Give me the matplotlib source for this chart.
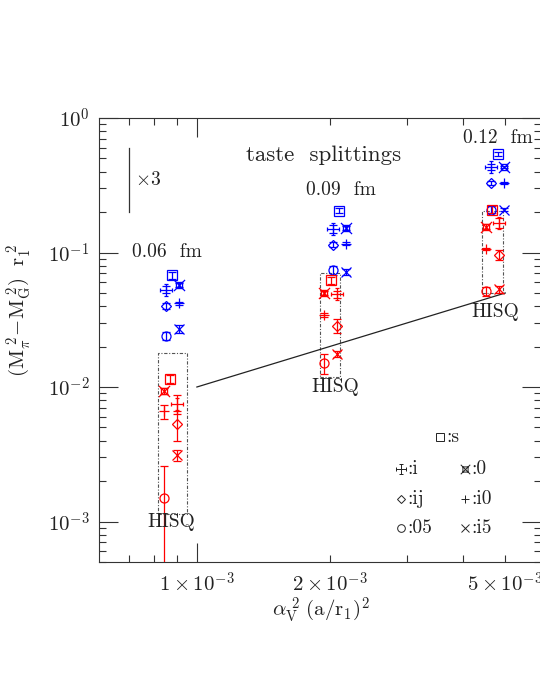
import numpy as np
import matplotlib
matplotlib.use('Agg')
import matplotlib.pyplot as plt
from matplotlib.path import Path
from matplotlib.ticker import FixedLocator, FixedFormatter

plt.rcParams['font.family'] = ['cmr10', 'DejaVu Serif']
plt.rcParams['mathtext.fontset'] = 'cm'
plt.rcParams['axes.formatter.use_mathtext'] = True

# ---- data ----
tastes = ['s', 'i', '0', 'ij', 'i0', '05', 'i5']
spacings = ['0.06  fm', '0.09  fm', '0.12  fm']

# x = alpha_V^2 (a/r1)^2 for each ensemble, blue/red columns
x_blue = [8.80e-4, 2.10e-3, 4.81e-3]
x_red = [8.70e-4, 2.01e-3, 4.67e-3]

# taste splittings, order as in `tastes`
blue_006 = [0.068, 0.053, 0.057, 0.040, 0.042, 0.024, 0.027]
blue_006_err = [0.004, 0.003, 0.002, 0.002, 0.001, 0.0015, 0.002]
blue_009 = [0.205, 0.149, 0.152, 0.114, 0.116, 0.074, 0.072]
blue_009_err = [0.008, 0.010, 0.006, 0.005, 0.003, 0.006, 0.004]
blue_012 = [0.540, 0.432, 0.432, 0.328, 0.328, 0.208, 0.208]
blue_012_err = [0.020, 0.020, 0.010, 0.010, 0.005, 0.012, 0.005]

red_006 = [0.0115, 0.0075, 0.0094, 0.0053, 0.0066, 0.0015, 0.0031]
red_006_err = [0.0008, 0.0012, 0.0005, 0.0013, 0.0008, 0.0011, 0.0003]
red_009 = [0.062, 0.049, 0.050, 0.0286, 0.0344, 0.0150, 0.0176]
red_009_err = [0.004, 0.003, 0.002, 0.0033, 0.001, 0.0026, 0.0009]
red_012 = [0.208, 0.166, 0.156, 0.096, 0.106, 0.0513, 0.0534]
red_012_err = [0.012, 0.015, 0.006, 0.008, 0.002, 0.004, 0.003]

# HISQ boxes
box_x_lo = [8.16e-4, 1.90e-3, 4.43e-3]
box_x_hi = [9.49e-4, 2.11e-3, 4.95e-3]
box_y_lo = [0.00114, 0.0119, 0.050]
box_y_hi = [0.0179, 0.0706, 0.202]
hisq_x = [8.73e-4, 2.06e-3, 4.74e-3]
hisq_y = [0.00116, 0.0117, 0.0422]

# spacing labels
label_x = [8.55e-4, 2.12e-3, 4.80e-3]
label_y = [0.101, 0.292, 0.713]

# straight line
line_x = [1e-3, 5e-3]
line_y = [0.01, 0.05]

# x3 scale bar
bar_x = 7.0e-4
bar_y = [0.2, 0.6]

# ---- markers ----
def make_i_marker():
    c = 0.35
    verts = [(0, -1), (0, 1), (-1, 0), (1, 0),
             (-c, 1), (c, 1), (-c, -1), (c, -1),
             (-1, -c), (-1, c), (1, -c), (1, c)]
    codes = [Path.MOVETO, Path.LINETO] * 6
    return Path(verts, codes)

def make_0_marker():
    s = 0.55
    verts = [(-s, -s), (s, -s), (s, s), (-s, s), (-s, -s),
             (-1, -1), (1, 1), (-1, 1), (1, -1)]
    codes = [Path.MOVETO, Path.LINETO, Path.LINETO, Path.LINETO, Path.LINETO,
             Path.MOVETO, Path.LINETO, Path.MOVETO, Path.LINETO]
    return Path(verts, codes)

marker_of = {'s': 's', 'i': make_i_marker(), '0': make_0_marker(),
             'ij': 'D', 'i0': '+', '05': 'o', 'i5': 'x'}
size_of = {'s': 6.5, 'i': 8.0, '0': 8.0, 'ij': 5.0, 'i0': 7.5, '05': 6.5, 'i5': 6.5}
side_blue = {'s': 0, 'i': -1, '0': 1, 'ij': -1, 'i0': 1, '05': -1, 'i5': 1}
side_red = {'s': 0, 'i': 1, '0': -1, 'ij': 1, 'i0': -1, '05': -1, 'i5': 1}
OFF = 1.0344

fig = plt.figure(figsize=(5.40, 6.99), dpi=100)
W, H = 540, 699
L, R, T, B = 99, 541, 118, 562
ax = fig.add_axes([L / W, 1 - B / H, (R - L) / W, (B - T) / H])
ax.set_xscale('log')
ax.set_yscale('log')
ax.set_xlim(6e-4, 6e-3 * 1.004)
ax.set_ylim(5e-4, 1.0)

fg = '#333333'

def draw_set(xc, vals, errs, color, side):
    for t, v, e in zip(tastes, vals, errs):
        x = xc * OFF ** side[t]
        ax.errorbar([x], [v], yerr=[e], fmt='none', ecolor=color,
                    elinewidth=0.9, capsize=3, capthick=0.9, zorder=3)
        ax.plot([x], [v], linestyle='none', marker=marker_of[t],
                markersize=size_of[t], mfc='none', mec=color, mew=0.9, zorder=4)

draw_set(x_blue[0], blue_006, blue_006_err, 'blue', side_blue)
draw_set(x_blue[1], blue_009, blue_009_err, 'blue', side_blue)
draw_set(x_blue[2], blue_012, blue_012_err, 'blue', side_blue)
draw_set(x_red[0], red_006, red_006_err, 'red', side_red)
draw_set(x_red[1], red_009, red_009_err, 'red', side_red)
draw_set(x_red[2], red_012, red_012_err, 'red', side_red)

for x0, x1, y0, y1 in zip(box_x_lo, box_x_hi, box_y_lo, box_y_hi):
    ax.plot([x0, x1, x1, x0, x0], [y0, y0, y1, y1, y0], color='#555555',
            lw=0.8, dashes=(3, 1.5, 1, 1.5), zorder=2)

for x, y in zip(hisq_x, hisq_y):
    ax.text(x, y, 'HISQ', ha='center', va='top', fontsize=14, color='#222222')

for x, y, s in zip(label_x, label_y, spacings):
    ax.text(x, y, s, ha='center', va='center', fontsize=14, color='#222222')

ax.plot(line_x, line_y, color='#222222', lw=0.9, zorder=2)

ax.plot([bar_x, bar_x], bar_y, color='#333333', lw=0.9)
ax.text(bar_x * 1.035, np.sqrt(bar_y[0] * bar_y[1]), r'$\times3$', ha='left',
        va='center', fontsize=14, color='#222222')

ax.text(0.507, 0.917, 'taste  splittings', transform=ax.transAxes, ha='center',
        va='center', fontsize=16.5, color='#222222')

# legend of taste symbols
def px(xp, yp):
    return (xp - L) / (R - L), (B - yp) / (B - T)

leg_entries = [('s', 440, 437), ('i', 401, 469), ('0', 465, 469),
               ('ij', 401, 499), ('i0', 465, 499), ('05', 401, 528), ('i5', 465, 528)]
for t, xp, yp in leg_entries:
    fx, fy = px(xp, yp)
    ax.plot([fx], [fy], transform=ax.transAxes, linestyle='none', marker=marker_of[t],
            markersize=size_of[t] * 0.85, mfc='none', mec='#222222', mew=0.7)
    fx2, _ = px(xp + 6, yp)
    ax.text(fx2, fy, ':' + t, transform=ax.transAxes, ha='left', va='center',
            fontsize=14, color='#222222')

# ticks
ax.xaxis.set_major_locator(FixedLocator([1e-3]))
ax.xaxis.set_major_formatter(FixedFormatter([r'$1\times10^{-3}$']))
x_minor = [7e-4, 8e-4, 9e-4, 2e-3, 3e-3, 4e-3, 5e-3]
x_minor_lab = ['', '', '', r'$2\times10^{-3}$', '', '', r'$5\times10^{-3}$']
ax.xaxis.set_minor_locator(FixedLocator(x_minor))
ax.xaxis.set_minor_formatter(FixedFormatter(x_minor_lab))

y_major = [1e-3, 1e-2, 1e-1, 1.0]
y_major_lab = [r'$10^{-3}$', r'$10^{-2}$', r'$10^{-1}$', r'$10^{0}$']
ax.yaxis.set_major_locator(FixedLocator(y_major))
ax.yaxis.set_major_formatter(FixedFormatter(y_major_lab))
y_minor = [m * d for d in [1e-4, 1e-3, 1e-2, 1e-1] for m in range(2, 10)]
ax.yaxis.set_minor_locator(FixedLocator(y_minor))
ax.yaxis.set_minor_formatter(FixedFormatter([''] * len(y_minor)))

ax.tick_params(which='both', direction='in', top=True, right=True, color=fg,
               width=0.8, labelsize=15, labelcolor='#222222')
ax.tick_params(which='major', length=14, pad=7)
ax.tick_params(which='minor', length=5, pad=7)
for sp in ax.spines.values():
    sp.set_color(fg)
    sp.set_linewidth(0.8)

fig.text(321 / W, 1 - 610 / H, r'$\alpha_\mathrm{V}^{\ 2}\ (\mathrm{a}/\mathrm{r}_1)^2$',
         ha='center', va='center', fontsize=15, color='#222222')
fig.text(19 / W, 1 - 310 / H,
         r'$(\mathrm{M}_\pi^{\ 2}\!-\!\mathrm{M}_\mathrm{G}^{\ 2})\ \ \mathrm{r}_1^{\ 2}$',
         ha='center', va='center', rotation=90, fontsize=15, color='#222222')

fig.savefig('out.png', dpi=100)
